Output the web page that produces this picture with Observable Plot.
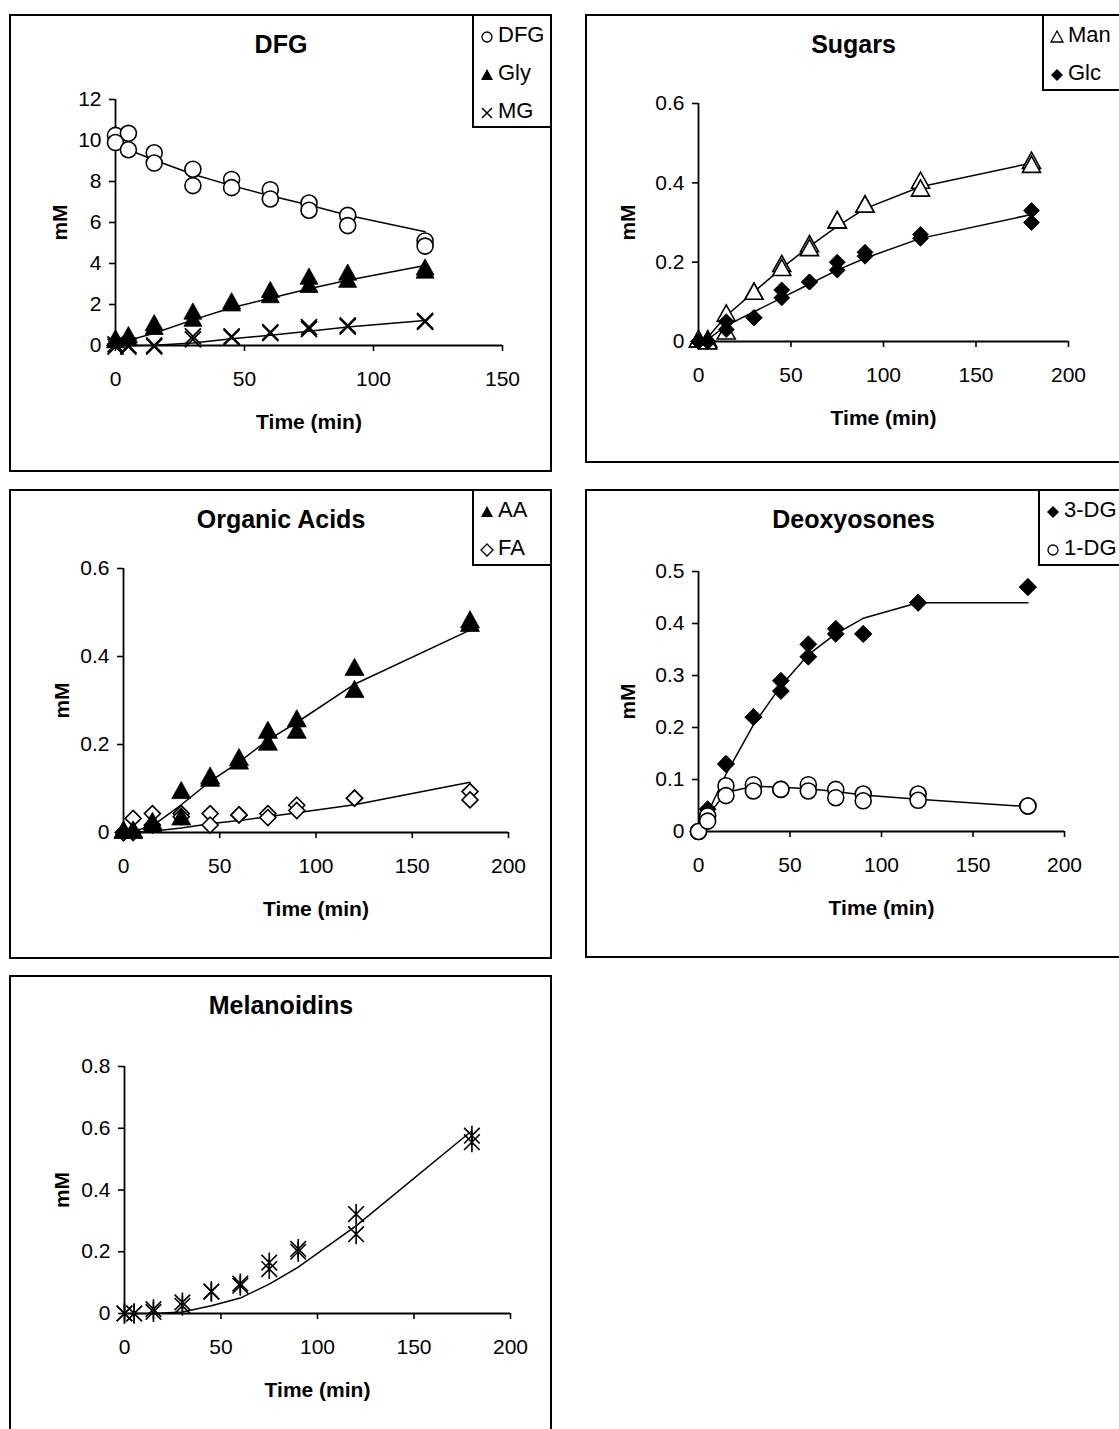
<!DOCTYPE html>
<html><head><meta charset="utf-8">
<script src="https://cdn.jsdelivr.net/npm/d3@7"></script>
<script src="https://cdn.jsdelivr.net/npm/@observablehq/plot@0.6"></script>
<style>
body{margin:0;background:#fff;font-family:"Liberation Sans",Arial,sans-serif;}
#root{position:relative;width:1119px;height:1429px;overflow:hidden;background:#fff;}
.frame{position:absolute;box-sizing:border-box;border:2px solid #000;background:#fff;}
.plotbox{position:absolute;}
.legend{position:absolute;box-sizing:border-box;border:2px solid #000;background:#fff;font-size:22px;color:#000;}
.legend .item{position:absolute;left:0;white-space:nowrap;line-height:22px;height:22px;}
.legend svg{position:absolute;left:4px;top:2px;overflow:visible;}
.legend span{position:absolute;left:24px;top:0;}
</style></head><body><div id="root"></div>
<script>
// ---------- data ----------
const time9 = [0, 5, 15, 30, 45, 60, 75, 90, 120];
const time10 = [0, 5, 15, 30, 45, 60, 75, 90, 120, 180];

// DFG panel (mM)
const dfgRep1 = [10.25, 10.35, 9.4, 8.6, 8.1, 7.6, 6.95, 6.35, 5.1];
const dfgRep2 = [9.9, 9.55, 8.9, 7.8, 7.7, 7.15, 6.6, 5.85, 4.85];
const dfgFit  = [9.8, 9.55, 9.05, 8.35, 7.8, 7.3, 6.85, 6.35, 5.55];
const glyRep1 = [0.25, 0.4, 0.98, 1.55, 2.05, 2.6, 3.25, 3.45, 3.7];
const glyRep2 = [0.15, 0.25, 0.8, 1.2, 1.95, 2.35, 2.85, 3.1, 3.55];
const glyFit  = [0.1, 0.25, 0.6, 1.25, 1.84, 2.3, 2.77, 3.18, 3.9];
const mgRep1  = [0.05, 0, 0, 0.45, 0.45, 0.65, 0.9, 0.98, 1.2];
const mgRep2  = [-0.05, -0.05, -0.05, 0.3, 0.4, 0.6, 0.8, 0.92, 1.15];
const mgFit   = [0, 0, 0.01, 0.12, 0.33, 0.5, 0.7, 0.9, 1.22];

// Sugars panel
const manRep1 = [0, 0, 0.065, 0.12, 0.19, 0.24, 0.3, 0.34, 0.4, 0.45];
const manRep2 = [0, -0.005, 0.02, 0.12, 0.18, 0.23, 0.3, 0.34, 0.38, 0.44];
const manFit  = [0, 0.01, 0.065, 0.125, 0.185, 0.24, 0.29, 0.335, 0.39, 0.45];
const glcRep1 = [0, 0, 0.05, 0.06, 0.13, 0.15, 0.2, 0.225, 0.27, 0.33];
const glcRep2 = [0, 0, 0.03, 0.06, 0.11, 0.15, 0.18, 0.215, 0.26, 0.30];
const glcFit  = [0, 0.005, 0.04, 0.075, 0.11, 0.145, 0.18, 0.21, 0.26, 0.32];

// Organic acids panel
const aaRep1 = [0, 0, 0.02, 0.09, 0.123, 0.165, 0.227, 0.253, 0.37, 0.478];
const aaRep2 = [0, 0, 0.013, 0.03, 0.118, 0.157, 0.2, 0.227, 0.32, 0.47];
const aaFit  = [0, 0.003, 0.015, 0.063, 0.116, 0.16, 0.21, 0.25, 0.337, 0.46];
const faRep1 = [0, 0.032, 0.043, 0.043, 0.043, 0.04, 0.043, 0.062, 0.078, 0.093];
const faRep2 = [0, 0, 0.017, 0.036, 0.017, 0.04, 0.034, 0.05, 0.078, 0.074];
const faFit  = [0, 0, 0.003, 0.01, 0.02, 0.027, 0.036, 0.045, 0.063, 0.114];

// Deoxyosones panel
const dg3Rep1 = [0, 0.043, 0.13, 0.22, 0.29, 0.36, 0.39, 0.38, 0.44, 0.47];
const dg3Rep2 = [0, 0.03, 0.13, 0.22, 0.27, 0.336, 0.38, 0.38, 0.44, 0.47];
const dg3Fit  = [0, 0.035, 0.11, 0.205, 0.28, 0.34, 0.38, 0.41, 0.44, 0.44];
const dg1Rep1 = [0, 0.03, 0.088, 0.09, 0.081, 0.09, 0.081, 0.072, 0.072, 0.049];
const dg1Rep2 = [0, 0.02, 0.069, 0.078, 0.081, 0.078, 0.065, 0.059, 0.06, 0.049];
const dg1Fit  = [0, 0.03, 0.075, 0.087, 0.085, 0.082, 0.077, 0.07, 0.062, 0.048];

// Melanoidins panel
const melRep1 = [0, 0, 0.014, 0.036, 0.071, 0.097, 0.165, 0.209, 0.322, 0.576];
const melRep2 = [0, 0, 0.005, 0.025, 0.071, 0.09, 0.144, 0.2, 0.257, 0.555];
const melFit  = [0, 0, 0, 0.005, 0.025, 0.05, 0.095, 0.15, 0.284, 0.592];

// tick labels
const xTicks150 = [0, 50, 100, 150];
const xTicks200 = [0, 50, 100, 150, 200];
const yTicksDFG = [0, 2, 4, 6, 8, 10, 12];
const yTicks06 = [0, 0.2, 0.4, 0.6];
const yTicks05 = [0, 0.1, 0.2, 0.3, 0.4, 0.5];
const yTicks08 = [0, 0.2, 0.4, 0.6, 0.8];

// ---------- symbols ----------
const half = (size) => Math.sqrt(size / Math.PI);
const triSym = {draw(c, s){ const r = half(s), h = r * 1.8; c.moveTo(0, -h * 2/3); c.lineTo(r, h/3); c.lineTo(-r, h/3); c.closePath(); }};
const diaSym = {draw(c, s){ const r = half(s); c.moveTo(0, -r); c.lineTo(r, 0); c.lineTo(0, r); c.lineTo(-r, 0); c.closePath(); }};
const timesSym = {draw(c, s){ const r = half(s); c.moveTo(-r, -r); c.lineTo(r, r); c.moveTo(-r, r); c.lineTo(r, -r); }};
const starSym = {draw(c, s){ const r = half(s), a = r * 0.78; c.moveTo(-a, -a); c.lineTo(a, a); c.moveTo(-a, a); c.lineTo(a, -a); c.moveTo(0, -r); c.lineTo(0, r); }};

function table(times, ...reps) {
  const out = [];
  for (const rep of reps) times.forEach((t, i) => out.push({t, v: rep[i]}));
  return out;
}
function fitTable(times, vals) { return times.map((t, i) => ({t, v: vals[i]})); }

function legendIcon(kind) {
  const s = 9;
  let shape = "";
  if (kind === "circle") shape = `<circle cx="${s}" cy="11" r="5" fill="#fff" stroke="#000" stroke-width="1.3"/>`;
  if (kind === "triFill") shape = `<path d="M${s},5L${s+6},16L${s-6},16Z" fill="#000"/>`;
  if (kind === "triOpen") shape = `<path d="M${s},5L${s+6},16L${s-6},16Z" fill="#fff" stroke="#000" stroke-width="1.3"/>`;
  if (kind === "diaFill") shape = `<path d="M${s},5L${s+6},11L${s},17L${s-6},11Z" fill="#000"/>`;
  if (kind === "diaOpen") shape = `<path d="M${s},5L${s+6},11L${s},17L${s-6},11Z" fill="#fff" stroke="#000" stroke-width="1.3"/>`;
  if (kind === "times") shape = `<path d="M${s-5},6L${s+5},16M${s-5},16L${s+5},6" stroke="#000" stroke-width="1.5"/>`;
  return `<svg width="20" height="22">${shape}</svg>`;
}

const root = document.getElementById("root");

function makePanel(p) {
  const W = p.R - p.L, H = p.B - p.T;
  const fr = document.createElement("div");
  fr.className = "frame";
  Object.assign(fr.style, {left: p.L + "px", top: p.T + "px", width: W + "px", height: H + "px"});
  root.appendChild(fr);

  const mL = p.x0 - p.L, mR = p.R - p.x1, mT = p.y1 - p.T, mB = p.B - p.y0;
  const cx = (p.x0 + p.x1) / 2;
  const marks = [
    Plot.axisX({ticks: p.xTicks, tickSize: 6, tickPadding: 20, fontSize: 21, label: null, tickFormat: d => String(d), strokeWidth: 1.6}),
    Plot.axisY({ticks: p.yTicks, tickSize: 6, tickPadding: 8, fontSize: 21, label: null, tickFormat: d => String(d), strokeWidth: 1.6}),
    Plot.ruleY([0], {stroke: "black", strokeWidth: 1.8}),
    Plot.ruleX([0], {stroke: "black", strokeWidth: 1.8}),
  ];
  for (const f of p.fits) marks.push(Plot.line(f, {x: "t", y: "v", stroke: "black", strokeWidth: 1.5}));
  for (const s of p.series) marks.push(Plot.dot(s.data, {x: "t", y: "v", symbol: s.symbol, r: s.r, fill: s.fill, stroke: "black", strokeWidth: s.sw || 1.6}));
  marks.push(Plot.text([p.title], {text: d => d, frameAnchor: "top", textAnchor: "middle", dx: (p.L + p.R) / 2 - cx, dy: p.T + 30 - p.y1, fontSize: 25, fontWeight: "bold", lineAnchor: "middle"}));
  marks.push(Plot.text(["Time (min)"], {text: d => d, frameAnchor: "bottom", textAnchor: "middle", dy: 77, fontSize: 21, fontWeight: "bold", lineAnchor: "middle"}));
  marks.push(Plot.text(["mM"], {text: d => d, frameAnchor: "left", textAnchor: "middle", dx: p.yLabX - p.x0, rotate: -90, fontSize: 21, fontWeight: "bold", lineAnchor: "middle"}));

  const svg = Plot.plot({
    width: W, height: H,
    marginLeft: mL, marginRight: mR, marginTop: mT, marginBottom: mB,
    x: {domain: p.xDomain},
    y: {domain: p.yDomain},
    style: {fontFamily: "'Liberation Sans', Arial, sans-serif", background: "transparent", overflow: "visible", color: "black"},
    marks
  });
  const box = document.createElement("div");
  box.className = "plotbox";
  Object.assign(box.style, {left: p.L + "px", top: p.T + "px", width: W + "px", height: H + "px"});
  box.appendChild(svg);
  root.appendChild(box);

  if (p.legend) {
    const lg = document.createElement("div");
    lg.className = "legend";
    const lg0 = p.legend;
    Object.assign(lg.style, {left: lg0.L + "px", top: p.T + "px", width: (lg0.R - lg0.L) + "px", height: (lg0.B - p.T) + "px"});
    lg0.items.forEach((it, i) => {
      const d = document.createElement("div");
      d.className = "item";
      d.style.top = (lg0.first + i * 38 - 11) + "px";
      d.innerHTML = legendIcon(it.icon) + `<span>${it.label}</span>`;
      lg.appendChild(d);
    });
    root.appendChild(lg);
  }
}

makePanel({
  title: "DFG", L: 9, T: 14, R: 552, B: 472,
  x0: 115, x1: 502, y0: 345, y1: 99, yLabX: 60,
  xDomain: [0, 150], yDomain: [0, 12], xTicks: xTicks150, yTicks: yTicksDFG,
  fits: [fitTable(time9, dfgFit), fitTable(time9, glyFit), fitTable(time9, mgFit)],
  series: [
    {data: table(time9, dfgRep1, dfgRep2), symbol: "circle", r: 8, fill: "white"},
    {data: table(time9, glyRep1, glyRep2), symbol: triSym, r: 9, fill: "black", sw: 0.8},
    {data: table(time9, mgRep1, mgRep2), symbol: timesSym, r: 8, fill: "none", sw: 1.8}
  ],
  legend: {L: 472, R: 552, B: 128, first: 19, items: [{icon: "circle", label: "DFG"}, {icon: "triFill", label: "Gly"}, {icon: "times", label: "MG"}]}
});

makePanel({
  title: "Sugars", L: 585, T: 14, R: 1121, B: 463,
  x0: 698, x1: 1068, y0: 341, y1: 103, yLabX: 628,
  xDomain: [0, 200], yDomain: [0, 0.6], xTicks: xTicks200, yTicks: yTicks06,
  fits: [fitTable(time10, manFit), fitTable(time10, glcFit)],
  series: [
    {data: table(time10, manRep1, manRep2), symbol: triSym, r: 9, fill: "white"},
    {data: table(time10, glcRep1, glcRep2), symbol: diaSym, r: 8, fill: "black", sw: 0.8}
  ],
  legend: {L: 1042, R: 1121, B: 91, first: 19, items: [{icon: "triOpen", label: "Man"}, {icon: "diaFill", label: "Glc"}]}
});

makePanel({
  title: "Organic Acids", L: 9, T: 489, R: 552, B: 959,
  x0: 123, x1: 508, y0: 832, y1: 568, yLabX: 62,
  xDomain: [0, 200], yDomain: [0, 0.6], xTicks: xTicks200, yTicks: yTicks06,
  fits: [fitTable(time10, aaFit), fitTable(time10, faFit)],
  series: [
    {data: table(time10, faRep1, faRep2), symbol: diaSym, r: 8, fill: "white"},
    {data: table(time10, aaRep1, aaRep2), symbol: triSym, r: 9.5, fill: "black", sw: 0.8}
  ],
  legend: {L: 472, R: 552, B: 566, first: 19, items: [{icon: "triFill", label: "AA"}, {icon: "diaOpen", label: "FA"}]}
});

makePanel({
  title: "Deoxyosones", L: 585, T: 489, R: 1121, B: 958,
  x0: 698, x1: 1064, y0: 831, y1: 571, yLabX: 628,
  xDomain: [0, 200], yDomain: [0, 0.5], xTicks: xTicks200, yTicks: yTicks05,
  fits: [fitTable(time10, dg3Fit), fitTable(time10, dg1Fit)],
  series: [
    {data: table(time10, dg3Rep1, dg3Rep2), symbol: diaSym, r: 8.5, fill: "black", sw: 0.8},
    {data: table(time10, dg1Rep1, dg1Rep2), symbol: "circle", r: 8, fill: "white"}
  ],
  legend: {L: 1038, R: 1121, B: 566, first: 19, items: [{icon: "diaFill", label: "3-DG"}, {icon: "circle", label: "1-DG"}]}
});

makePanel({
  title: "Melanoidins", L: 9, T: 975, R: 552, B: 1445,
  x0: 124, x1: 510, y0: 1313, y1: 1066, yLabX: 62,
  xDomain: [0, 200], yDomain: [0, 0.8], xTicks: xTicks200, yTicks: yTicks08,
  fits: [fitTable(time10, melFit)],
  series: [
    {data: table(time10, melRep1, melRep2), symbol: starSym, r: 10, fill: "none", sw: 1.6}
  ]
});
</script></body></html>
